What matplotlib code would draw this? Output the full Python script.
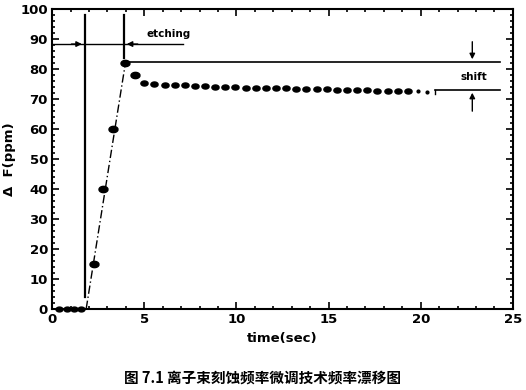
import matplotlib
matplotlib.use("Agg")
import numpy as np
import matplotlib.pyplot as plt
from matplotlib.ticker import MultipleLocator

plt.rcParams["font.family"] = ["DejaVu Sans"]
plt.rcParams["font.weight"] = "bold"

# measured points
rise_t = [0.35, 0.8, 1.2, 1.55, 2.3, 2.77, 3.3, 3.96, 4.5]
rise_f = [0.0, 0.0, 0.0, 0.0, 15.0, 40.0, 60.0, 82.0, 78.0]
drift_t = [5.0, 5.55, 6.1, 6.65, 7.2, 7.75, 8.3, 8.85, 9.4, 9.95, 10.5, 11.05,
           11.6, 12.15, 12.7, 13.25, 13.8, 14.35, 14.9, 15.45, 16.0, 16.55,
           17.1, 17.65, 18.2, 18.75, 19.3]
drift_f = [75.2, 75.0, 74.8, 74.6, 74.5, 74.3, 74.2, 74.1, 74.0, 73.9, 73.8,
           73.7, 73.6, 73.5, 73.5, 73.4, 73.3, 73.2, 73.2, 73.1, 73.0, 73.0,
           72.9, 72.8, 72.8, 72.7, 72.6]
tail_t = [19.85, 20.35]
tail_f = [72.5, 72.4]

# linear fit of the etching ramp
fit_t = [1.85, 3.98]
fit_f = [0.0, 82.0]

etch_start, etch_end = 1.77, 3.9
etch_level = 88.3
top_level = 82.3
shift_level = 73.0

# flattened dot, like the scanned markers
ang = np.linspace(0, 2 * np.pi, 30)
oval = list(zip(np.cos(ang), 0.7 * np.sin(ang)))

fig = plt.figure(figsize=(5.26, 3.9), dpi=100)
ax = fig.add_axes([0.099, 0.208, 0.876, 0.769])

ax.plot(fit_t, fit_f, color="black", lw=1.0, ls=(0, (6, 2, 1, 2)))
ax.plot(rise_t[:4], rise_f[:4], marker=oval, ls="none", color="black", ms=5, clip_on=False)
ax.plot(rise_t[4:], rise_f[4:], marker=oval, ls="none", color="black", ms=6.5)
ax.plot(drift_t, drift_f, marker=oval, ls="none", color="black", ms=5.2)
ax.plot(tail_t, tail_f, "o", color="black", ms=2)

# etching window markers
ax.plot([etch_start, etch_start], [98, 4], color="black", lw=1.6)
ax.plot([etch_end, etch_end], [98, 83.6], color="black", lw=1.6)
ax.plot([0, 7.1], [etch_level, etch_level], color="black", lw=1.0)
ax.annotate("", xy=(etch_start, etch_level), xytext=(0.9, etch_level),
            arrowprops=dict(arrowstyle="-|>", color="black", lw=1.0, mutation_scale=8))
ax.annotate("", xy=(etch_end, etch_level), xytext=(4.8, etch_level),
            arrowprops=dict(arrowstyle="-|>", color="black", lw=1.0, mutation_scale=8))
ax.text(5.1, 91.8, "etching", fontsize=7.5, fontweight="bold", ha="left", va="center")

# shift markers
ax.plot([4.2, 24.3], [top_level, top_level], color="black", lw=1.2)
ax.plot([20.8, 24.3], [shift_level, shift_level], color="black", lw=1.2)
ax.plot([20.8, 20.8], [shift_level, 71.8], color="black", lw=1.0)
ax.annotate("", xy=(22.8, top_level), xytext=(22.8, 90),
            arrowprops=dict(arrowstyle="-|>", color="black", lw=1.0, mutation_scale=8))
ax.annotate("", xy=(22.8, shift_level), xytext=(22.8, 65),
            arrowprops=dict(arrowstyle="-|>", color="black", lw=1.0, mutation_scale=8))
ax.text(22.9, 77.2, "shift", fontsize=7.5, fontweight="bold", ha="center", va="center")

ax.set_xlim(0, 25)
ax.set_ylim(0, 100)
ax.xaxis.set_major_locator(MultipleLocator(5))
ax.xaxis.set_minor_locator(MultipleLocator(1))
ax.yaxis.set_major_locator(MultipleLocator(10))
ax.yaxis.set_minor_locator(MultipleLocator(2))
ax.tick_params(which="both", direction="in", top=True, right=True, width=1.2,
               labelsize=9.5, pad=3)
ax.tick_params(which="major", length=5)
ax.tick_params(which="minor", length=2.5)
for sp in ax.spines.values():
    sp.set_linewidth(1.5)
for lab in ax.get_xticklabels() + ax.get_yticklabels():
    lab.set_fontweight("bold")

ax.set_xlabel("time(sec)", fontsize=9.5, fontweight="bold", labelpad=4)
ax.set_ylabel("Δ  F(ppm)", fontsize=9.5, fontweight="bold", labelpad=3)

fig.text(0.5, 0.032, "图 7.1 离子束刻蚀频率微调技术频率漂移图",
         family=["Noto Sans CJK SC", "DejaVu Sans"], fontsize=10.5,
         fontweight="bold", ha="center", va="center")

fig.savefig("out.png", dpi=100, facecolor="white")
